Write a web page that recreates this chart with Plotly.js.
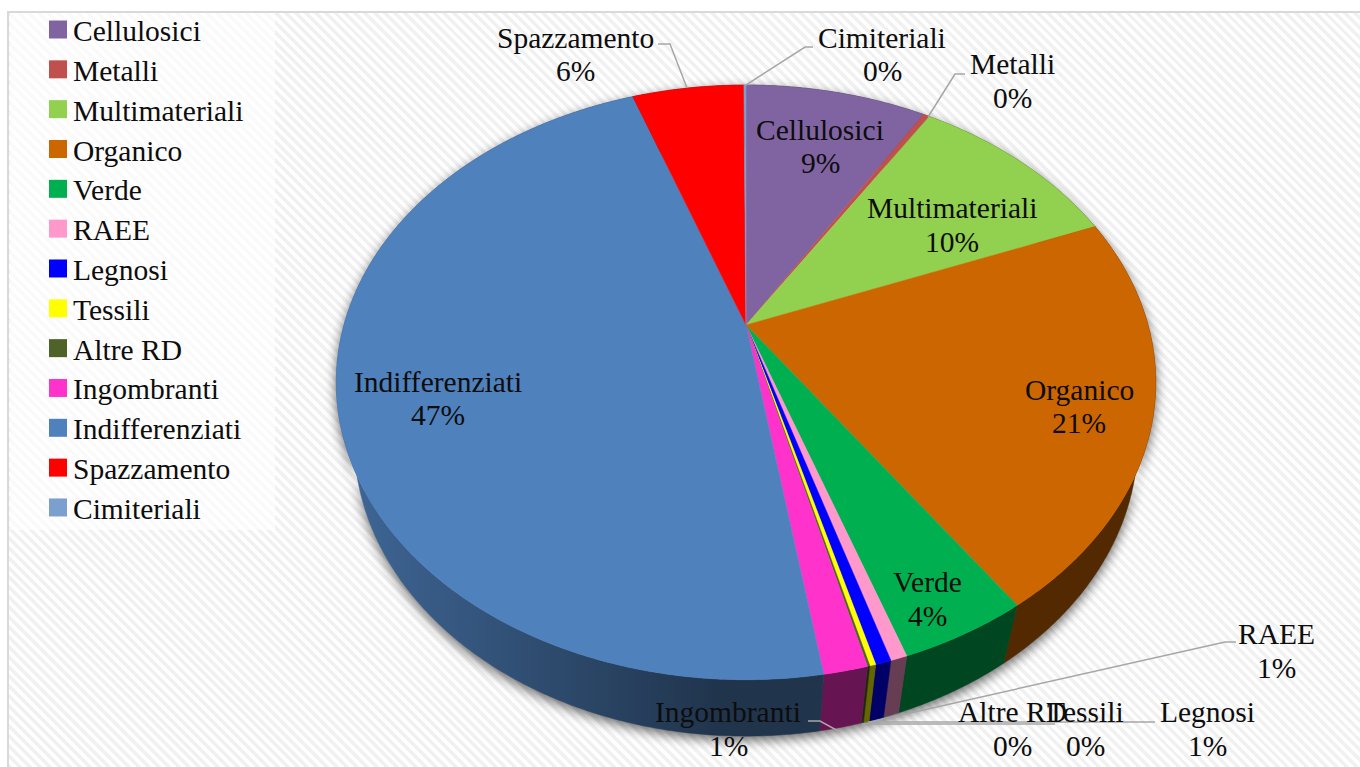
<!DOCTYPE html>
<html><head><meta charset="utf-8">
<script src="https://cdn.plot.ly/plotly-3.0.1.min.js"></script>
<style>
html,body{margin:0;padding:0;background:#fff;overflow:hidden;width:1360px;height:767px}
#stage{position:absolute;left:8px;top:11px;width:1352px;height:756px;
 background:repeating-linear-gradient(45deg,#f1f1f1 0 3.5px,#fff 3.5px 7px);}
#chart{position:absolute;left:0;top:0;width:1360px;height:767px}
</style></head>
<body>
<div id="stage"></div>
<div id="chart"></div>
<script>
const categories=['Cellulosici','Metalli','Multimateriali','Organico','Verde','RAEE','Legnosi','Tessili','Altre RD','Ingombranti','Indifferenziati','Spazzamento','Cimiteriali'];
const shares=[8.6,0.3,10.1,21.4,4.3,0.55,0.52,0.2,0.08,1.45,47.1,5.3,0.1];
const percentLabels=['9%','0%','10%','21%','4%','1%','1%','0%','0%','1%','47%','6%','0%'];
const colors=['#8064A2','#C0504D','#92D050','#CC6600','#00B050','#FF99CC','#0000FF','#FFFF00','#4F6228','#FF33CC','#4F81BD','#FF0000','#7BA0CD'];
// label block centres on the page
const labelX=[820,1012,952,1079,927,1276,1207,1085,1012,728,438,575,882];
const labelY=[148,82,226,408,600,652,730,730,730,730,400,56,56];
const W=1360,H=767;
const px=x=>x/W, py=y=>1-y/H;
const FONT='"Liberation Serif",serif', FS=29.5, INK='#0d0d0d';

const annotations=[];
categories.forEach((c,i)=>{
  [[c,-18],[percentLabels[i],15.5]].forEach(([t,dy])=>annotations.push({
    xref:'paper',yref:'paper',x:px(labelX[i]),y:py(labelY[i]+dy),xanchor:'center',yanchor:'middle',
    text:t,showarrow:false,font:{family:FONT,size:FS,color:INK}}));
});
const line=d=>({type:'path',xref:'paper',yref:'paper',path:d.map((p,i)=>(i?'L':'M')+px(p[0])+' '+py(p[1])).join(' '),
  line:{color:'#A6A6A6',width:1.5}});
const shapes=[
 {type:'rect',xref:'paper',yref:'paper',x0:px(10),x1:px(275),y0:py(530),y1:py(13),fillcolor:'rgba(255,255,255,.65)',line:{width:0},layer:'below'},
 {type:'line',xref:'paper',yref:'paper',x0:px(8),x1:px(8),y0:0,y1:py(11),line:{color:'#D9D9D9',width:2}},
 {type:'line',xref:'paper',yref:'paper',x0:px(8),x1:1,y0:py(12),y1:py(12),line:{color:'#D9D9D9',width:2}},
 line([[658,44],[670,44],[687,88]]),
 line([[813,47],[805,47],[746,85]]),
 line([[965,74],[955,74],[928,117]]),
 line([[1236,642],[1225,642],[870,722]]),
 line([[1155,722],[868,722]]),
 line([[1055,724],[862,724]]),
 line([[808,721],[820,721],[840,732]])
];

Plotly.newPlot('chart',[{type:'pie',labels:categories,values:shares,sort:false,direction:'clockwise',rotation:0,
  textinfo:'none',hoverinfo:'skip',marker:{colors:colors,line:{width:0}},domain:{x:[0.3,0.9],y:[0.1,0.9]}}],{
  width:W,height:H,margin:{l:0,r:0,t:0,b:0},paper_bgcolor:'rgba(0,0,0,0)',plot_bgcolor:'rgba(0,0,0,0)',
  font:{family:FONT,size:FS,color:INK},
  showlegend:true,
  legend:{x:px(33),xanchor:'left',y:py(11),yanchor:'top',bgcolor:'rgba(0,0,0,0)',traceorder:'normal',
    font:{family:FONT,size:FS,color:INK},itemclick:false,itemdoubleclick:false},
  annotations:annotations,shapes:shapes
},{staticPlot:true,displayModeBar:false}).then(gd=>{
  // perspective view of the pie the library laid out
  const R=402,cx=746,cy=325,F=1462,TH=44.6*Math.PI/180,DEPTH=90.7;
  const c=Math.cos(TH),s=Math.sin(TH);
  const proj=(x,y,d)=>{const Y=y*c+d*s,Z=y*s-d*c,k=F/(F-Z);return [x*k,Y*k];};
  const rim=(a,d)=>proj(R*Math.sin(a),-R*Math.cos(a),d);
  const fmt=p=>p[0].toFixed(2)+','+p[1].toFixed(2);
  const NS='http://www.w3.org/2000/svg';
  const layer=gd.querySelector('.pielayer');
  layer.setAttribute('transform','translate('+cx+','+cy+')');
  const walls=document.createElementNS(NS,'g');
  walls.style.filter='drop-shadow(0px 4px 6px rgba(0,0,0,.6))';
  const defs=document.createElementNS(NS,'defs');
  walls.appendChild(defs);
  const shade=(hex,k)=>'rgb('+[1,3,5].map(i=>Math.round(parseInt(hex.substr(i,2),16)*k)).join(',')+')';
  gd.querySelectorAll('.pielayer path.surface').forEach(el=>{
    const pt=el.__data__;
    let a0=pt.startangle,a1=pt.stopangle;
    const n=Math.max(2,Math.ceil((a1-a0)/0.008));
    const arc=[];for(let i=0;i<=n;i++)arc.push(a0+(a1-a0)*i/n);
    let g=el.parentNode;
    while(g&&g!==layer){g.removeAttribute('transform');g=g.parentNode;}
    const col=colors[pt.i];
    el.setAttribute('d','M0,0L'+arc.map(a=>fmt(rim(a,0))).join('L')+'Z');
    el.style.stroke=col;el.style.strokeWidth='0.5px';el.style.fill=col;
    // outer wall of this slice
    const gid='wall'+pt.i;
    const lg=document.createElementNS(NS,'linearGradient');
    lg.setAttribute('id',gid);lg.setAttribute('gradientUnits','userSpaceOnUse');
    lg.setAttribute('x1',-406);lg.setAttribute('x2',-26);lg.setAttribute('y1',0);lg.setAttribute('y2',0);
    [[0,0.8],[1,0.4]].forEach(([o,k])=>{const st=document.createElementNS(NS,'stop');
      st.setAttribute('offset',o);st.setAttribute('stop-color',shade(col,k));lg.appendChild(st);});
    defs.appendChild(lg);
    const w=document.createElementNS(NS,'path');
    w.setAttribute('d','M'+arc.map(a=>fmt(rim(a,0))).join('L')+'L'+arc.slice().reverse().map(a=>fmt(rim(a,DEPTH))).join('L')+'Z');
    w.setAttribute('fill','url(#'+gid+')');
    w.setAttribute('stroke','url(#'+gid+')');w.setAttribute('stroke-width','0.5');
    walls.appendChild(w);
  });
  layer.insertBefore(walls,layer.firstChild);

  // legend: rows, swatches
  const leg=gd.querySelector('.legend');
  const lm=leg.transform.baseVal.consolidate();
  const ly=lm?lm.matrix.f:0;
  leg.querySelectorAll('[clip-path]').forEach(e=>e.removeAttribute('clip-path'));
  leg.querySelectorAll('.traces').forEach((t,i)=>{
    t.setAttribute('transform','translate(0,'+(29.5+39.83*i-ly)+')');
    const p=t.querySelector('path.legendpie');
    if(p){const m=p.transform.baseVal.consolidate();const e=m?m.matrix.e:0;
      p.setAttribute('transform','translate('+(e+5)+',0)');p.setAttribute('d','M9,9H-9V-9H9Z');}
  });
});
</script>
</body></html>
